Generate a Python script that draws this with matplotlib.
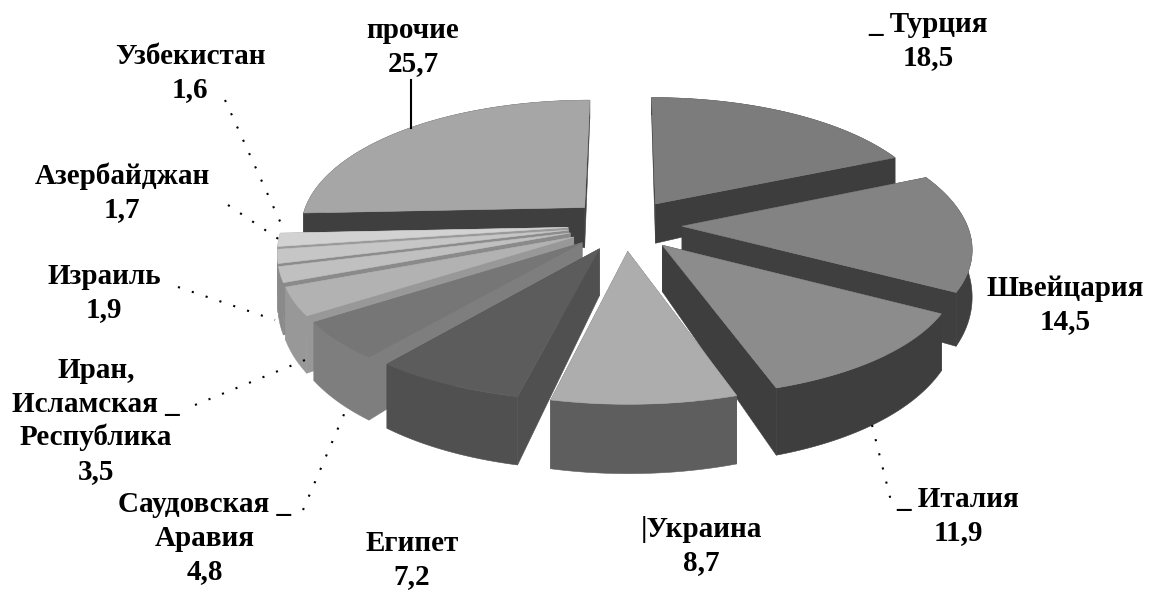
import matplotlib
matplotlib.use("Agg")
import matplotlib.pyplot as plt
from matplotlib.patches import Polygon
import numpy as np

# data, clockwise from 12 o'clock
names = ["_ Турция", "Швейцария", "_ Италия", "|Украина", "Египет", "Саудовская _\nАравия",
         "Иран,\nИсламская _\nРеспублика", "Израиль", "Азербайджан", "Узбекистан", "прочие"]
values = [18.5, 14.5, 11.9, 8.7, 7.2, 4.8, 3.5, 1.9, 1.7, 1.6, 25.7]

top_colors = ["#7c7c7c", "#838383", "#8c8c8c", "#adadad", "#5c5c5c", "#767676",
              "#b2b2b2", "#c0c0c0", "#c6c6c6", "#d2d2d2", "#a6a6a6"]
side_colors = ["#3d3d3d", "#3f3f3f", "#3e3e3e", "#5e5e5e", "#505050", "#7e7e7e",
               "#989898", "#8a8a8a", "#8c8c8c", "#9a9a9a", "#3f3f3f"]

# label centres in image pixels
label_x = [928, 1065, 958, 701, 412, 205, 96, 104, 122, 190, 413]
label_y = [41, 305, 516, 546, 560, 538, 421, 293, 193, 73, 47]

# leader lines (x0, y0, x1, y1)
dotted = [(225, 100, 283, 228), (228, 205, 280, 240), (178, 287, 275, 320),
          (195, 405, 305, 360), (303, 510, 348, 405), (872, 425, 892, 505)]
solid = [(411, 80, 411, 128)]

plt.rcParams["font.family"] = ["Liberation Serif", "DejaVu Serif"]

fig = plt.figure(figsize=(11.53, 5.92), dpi=100)
ax = fig.add_axes([0, 0, 1, 1])
ax.set_xlim(0, 1153)
ax.set_ylim(592, 0)
ax.axis("off")

CX, CY = 625, 225
RX = 285
EXPLODE = 0.2


def project(X, Y):
    # flat disc to screen, with a bit of perspective (front is larger)
    s = 1 / (1 - 0.15 * Y)
    return CX + RX * X * s, CY + 129 * Y + 17 * Y**2


def depth(Y):
    return 43 + 22 * Y


def slice_faces(a0, a1):
    mid = (a0 + a1) / 2
    ox, oy = EXPLODE * np.sin(mid), -EXPLODE * np.cos(mid)
    th = np.linspace(a0, a1, 80)
    X = ox + np.sin(th)
    Y = oy - np.cos(th)
    x, y = project(X, Y)
    d = depth(Y)
    ax_, ay_ = project(ox, oy)
    ad = depth(oy)
    return ax_, ay_, ad, x, y, d


fracs = np.array(values) / sum(values) * 2 * np.pi
ends = np.cumsum(fracs)
starts = ends - fracs
mids = (starts + ends) / 2

# back to front
order = np.argsort(-np.cos(mids))
for i in order:
    px, py, pd, x, y, d = slice_faces(starts[i], ends[i])
    c = side_colors[i]
    for k in (0, -1):
        ax.add_patch(Polygon([(px, py), (x[k], y[k]), (x[k], y[k] + d[k]), (px, py + pd)],
                             facecolor=c, edgecolor=c, lw=0.4))
    arc = np.column_stack([np.r_[x, x[::-1]], np.r_[y, (y + d)[::-1]]])
    ax.add_patch(Polygon(arc, facecolor=c, edgecolor=c, lw=0.4))
    top = np.column_stack([np.r_[px, x], np.r_[py, y]])
    ax.add_patch(Polygon(top, facecolor=top_colors[i], edgecolor=top_colors[i], lw=0.4))

for x0, y0, x1, y1 in dotted:
    ax.plot([x0, x1], [y0, y1], color="black", lw=1.5, ls=(0, (1, 6)))
for x0, y0, x1, y1 in solid:
    ax.plot([x0, x1], [y0, y1], color="black", lw=1.5)

for n, v, lx, ly in zip(names, values, label_x, label_y):
    txt = n + "\n" + str(v).replace(".", ",")
    ax.text(lx, ly, txt, ha="center", va="center", fontsize=21, fontweight="bold",
            linespacing=1.3, color="black")

fig.savefig("out.png", dpi=100)
